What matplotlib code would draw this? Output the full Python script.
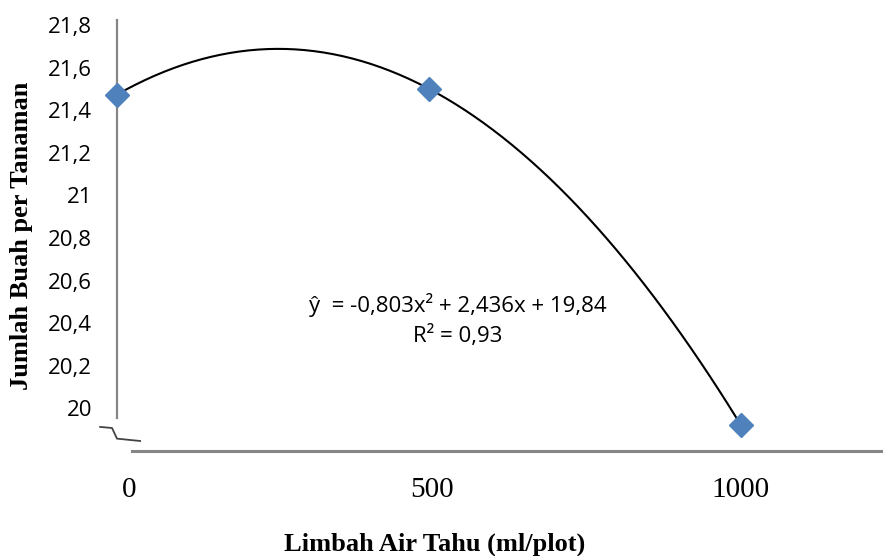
import numpy as np
import matplotlib.pyplot as plt

# data
doses = ["0", "500", "1000"]
fruit_count = [21.47, 21.50, 19.92]
# trendline from the chart label: y = a*x^2 + b*x + c (x = 1, 2, 3)
coef = [-0.803, 2.436, 19.84]
yticks = [20, 20.2, 20.4, 20.6, 20.8, 21, 21.2, 21.4, 21.6, 21.8]

sans = ["Open Sans", "DejaVu Sans"]
serif = ["Liberation Serif", "DejaVu Serif"]

fig = plt.figure(figsize=(8.83, 5.56), dpi=100)
ax = fig.add_axes([117 / 883, 105 / 556, 766 / 883, 431 / 556])

xpos = np.arange(1, len(doses) + 1)
xs = np.linspace(1, 3, 200)
ax.plot(xs, np.polyval(coef, xs), color="black", lw=1.5, zorder=2)
ax.plot(xpos, fruit_count, "D", color="#4F81BD", markersize=12, zorder=3, clip_on=False)

ax.set_xlim(1, 1 + 766 / 312)
ax.set_ylim(19.80, 21.823)

for s in ax.spines.values():
    s.set_visible(False)

# y axis line (broken near bottom) and x axis line
ax.plot([1, 1], [19.955, 21.823], color="#868686", lw=1.6, clip_on=False, zorder=1)
ax.plot([1.048, 3.46], [19.80, 19.80], color="#868686", lw=2.2, clip_on=False, zorder=1)
# small break mark
ax.plot([0.946, 0.984, 1.0, 1.074], [19.913, 19.908, 19.858, 19.847],
        color="#444444", lw=1.3, clip_on=False)

ax.set_yticks(yticks)
ax.set_yticklabels([f"{v:g}".replace(".", ",") for v in yticks],
                   fontfamily=sans, fontsize=16)
ax.tick_params(axis="y", length=0, pad=18)
ax.set_xticks(xpos + np.array([0.04, 0.01, 0.0]))
ax.set_xticklabels(doses, fontfamily=serif, fontsize=21)
ax.tick_params(axis="x", length=0, pad=19)

ax.set_ylabel("Jumlah Buah per Tanaman", fontfamily=serif, fontweight="bold",
              fontsize=19)
ax.yaxis.set_label_coords(-0.11, 0.5)
ax.set_xlabel("Limbah Air Tahu (ml/plot)", fontfamily=serif, fontweight="bold",
              fontsize=19)
ax.xaxis.set_label_coords(0.415, -0.19)

ax.text(2.093, 20.453, "ŷ  = -0,803x² + 2,436x + 19,84", fontfamily=sans,
        fontsize=16, ha="center", va="baseline")
ax.text(2.093, 20.312, "R² = 0,93", fontfamily=sans,
        fontsize=16, ha="center", va="baseline")

fig.savefig("out.png", dpi=100)
